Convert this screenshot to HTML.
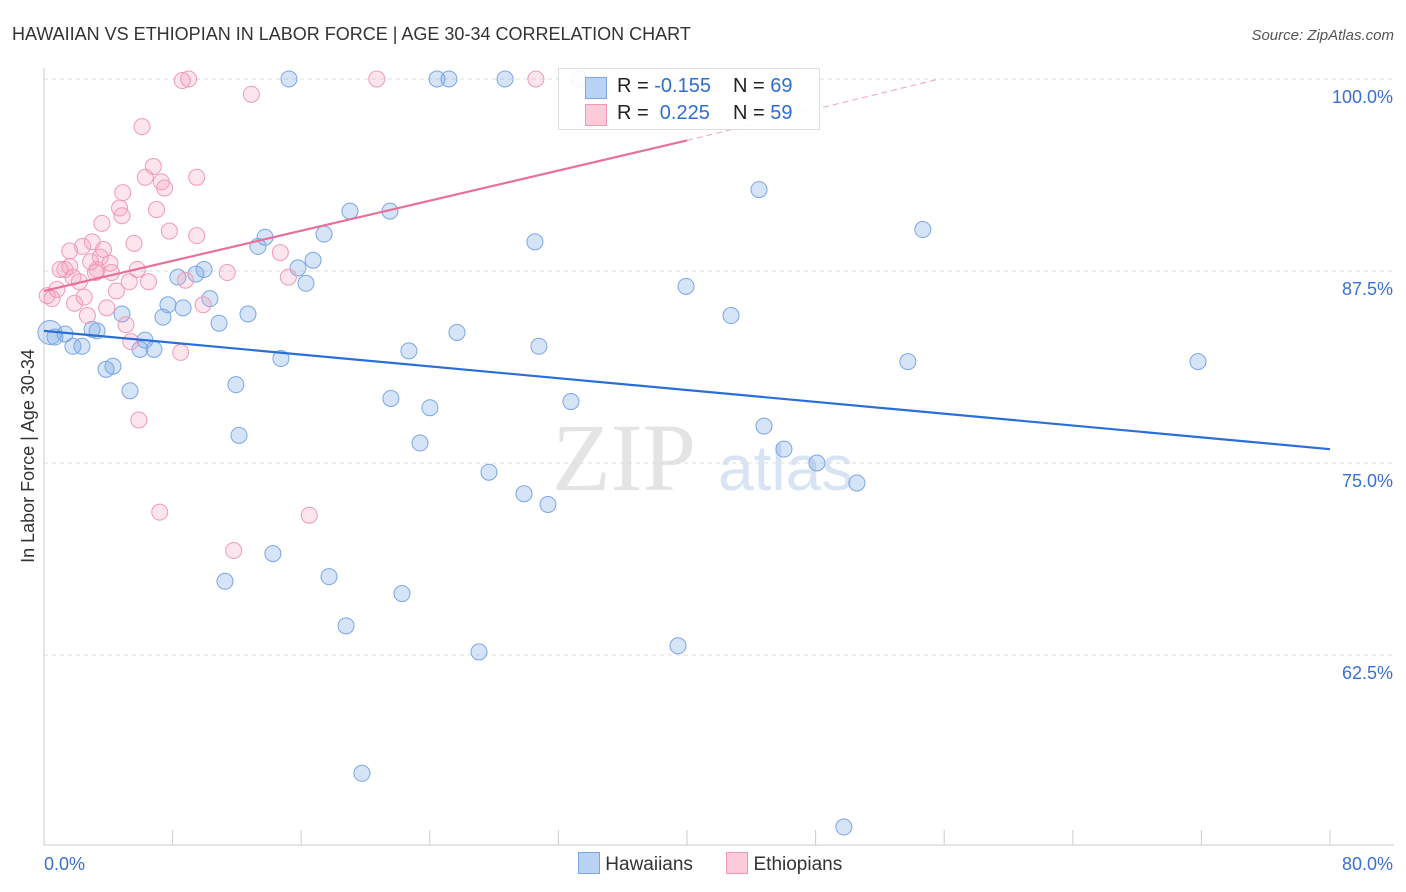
<!DOCTYPE html>
<html><head><meta charset="utf-8"><style>
body{margin:0;background:#fff;font-family:"Liberation Sans",sans-serif;}
svg{display:block}
</style></head><body>
<svg id="c" width="1406" height="892">
<text x="12" y="40" font-size="18" fill="#333">HAWAIIAN VS ETHIOPIAN IN LABOR FORCE | AGE 30-34 CORRELATION CHART</text>
<text x="1394" y="40" font-size="15" fill="#555" font-style="italic" text-anchor="end">Source: ZipAtlas.com</text>
<text x="552" y="490" font-size="96" fill="#e4e4e4" font-family="Liberation Serif,serif">ZIP</text>
<text x="718" y="490" font-size="64" fill="#d8e4f4">atlas</text>
<text transform="translate(34,456) rotate(-90)" font-size="18" fill="#333" text-anchor="middle">In Labor Force | Age 30-34</text>
<g id="grid"></g><g id="pts"></g><g id="lines"></g>
</svg>
<script>
const NS="http://www.w3.org/2000/svg";
const yTicks=[100,87.5,75,62.5];
const yTickLabels=["100.0%","87.5%","75.0%","62.5%"];
const xTickVals=[0,8,16,24,32,40,48,56,64,72,80];
const hawX=[0.37,0.68,1.31,1.80,2.36,2.99,3.30,3.86,4.29,4.85,5.35,5.97,6.28,6.84,7.4,7.71,8.33,8.65,9.45,9.95,10.32,10.89,11.94,12.13,12.69,11.26,13.31,13.75,14.24,14.74,15.8,16.3,16.74,17.42,17.73,18.79,19.03,19.78,21.52,21.58,22.27,22.7,23.39,24.01,24.45,25.19,25.69,27.06,27.68,28.68,29.86,30.54,30.79,31.35,32.78,33.28,15.24,39.44,39.94,42.74,44.48,44.79,46.03,48.08,49.76,50.57,53.74,54.67,71.79];
const hawY=[83.5,83.2,83.4,82.6,82.6,83.7,83.6,81.1,81.3,84.7,79.7,82.4,83.0,82.4,84.5,85.3,87.1,85.1,87.3,87.6,85.7,84.1,80.1,76.8,84.7,67.3,89.1,89.7,69.1,81.8,87.7,86.7,88.2,89.9,67.6,64.4,91.4,54.8,91.4,79.2,66.5,82.3,76.3,78.6,100,100,83.5,62.7,74.4,100,73.0,89.4,82.6,72.3,79.0,100,100,63.1,86.5,84.6,92.8,77.4,75.9,75.0,51.3,73.7,81.6,90.2,81.6];
const ethX=[0.2,0.5,0.8,1.0,1.3,1.6,1.6,1.9,1.8,2.2,2.4,2.5,2.7,2.9,3.0,3.2,3.3,3.5,3.6,3.7,3.9,4.1,4.2,4.5,4.7,4.85,4.9,5.1,5.3,5.4,5.6,5.8,5.9,6.1,6.3,6.5,6.8,7.0,7.2,7.3,7.5,7.8,8.5,8.8,9.0,9.5,9.5,9.9,11.4,11.8,12.9,14.7,15.2,16.5,20.7,30.6,8.6];
const ethY=[85.9,85.7,86.3,87.6,87.6,87.8,88.8,85.4,87.1,86.8,89.1,85.8,84.6,88.1,89.4,87.4,87.6,88.4,90.6,88.9,85.1,88.0,87.4,86.2,91.6,91.1,92.6,84.0,86.8,82.9,89.3,87.6,77.8,96.9,93.6,86.8,94.3,91.5,71.8,93.3,92.9,90.1,82.2,86.9,100,89.8,93.6,85.3,87.4,69.3,99.0,88.7,87.1,71.6,100,100,99.9];
const X=v=>44+v*16.075, Y=v=>79+(100-v)*15.36;
const g=document.getElementById('grid');
function el(p,t,a){const e=document.createElementNS(NS,t);for(const k in a)e.setAttribute(k,a[k]);p.appendChild(e);return e;}
yTicks.forEach((v,i)=>{
 const l=el(g,'line',{x1:44,x2:1394,y1:Y(v),y2:Y(v),stroke:'#ddd','stroke-dasharray':'4,4'});
 
 
 const t=el(g,'text',{x:1393,y:Y(v)+24,'font-size':18,fill:'#3b6fd4','text-anchor':'end'});t.textContent=yTickLabels[i];
 
 
});
const ax=el(g,'line',{x1:44,x2:44,y1:68,y2:845,stroke:'#ccc'});


const bx=el(g,'line',{x1:44,x2:1394,y1:845,y2:845,stroke:'#ccc'});


xTickVals.forEach(v=>{const t=el(g,'line',{x1:X(v),x2:X(v),y1:830,y2:845,stroke:'#ccc'});
 
 });
const xl=el(g,'text',{x:44,y:870,'font-size':18,fill:'#3b6fd4'});xl.textContent='0.0%';


const xr=el(g,'text',{x:1393,y:870,'font-size':18,fill:'#3b6fd4','text-anchor':'end'});xr.textContent='80.0%';


const P=document.getElementById('pts');
hawX.forEach((x,i)=>{const c=el(P,'circle',{cx:X(x),cy:Y(hawY[i]),r:i==0?12:8,fill:'rgba(120,165,230,0.3)',stroke:'#7aa6e6','stroke-width':1});
 
 });
ethX.forEach((x,i)=>{const c=el(P,'circle',{cx:X(x),cy:Y(ethY[i]),r:8,fill:'rgba(245,150,180,0.25)',stroke:'#f09ab5','stroke-width':1});
 
 });
const L=document.getElementById('lines');
const bl=el(L,'line',{x1:X(0),y1:Y(83.6),x2:X(80),y2:Y(75.9),stroke:'#2a6fd6','stroke-width':2.2});


const pl=el(L,'line',{x1:X(0),y1:Y(86.2),x2:X(40),y2:Y(96.0),stroke:'#e8709a','stroke-width':2.2});


const pd=el(L,'line',{x1:X(40),y1:Y(96.0),x2:X(55.7),y2:Y(100),stroke:'#f0a0bb','stroke-width':1,'stroke-dasharray':'6,4'});


</script>
<div style="position:absolute;left:558px;top:68px;width:260px;height:60px;border:1px solid #ddd;background:rgba(255,255,255,0.9);font-size:20px;color:#222">
 <div style="position:absolute;left:26px;top:6px;width:240px;height:24px"><span style="position:absolute;left:0;top:2px;width:20px;height:20px;background:#b9d2f5;border:1px solid #7aa6e6"></span><span style="position:absolute;left:32px">R = <span style="color:#2a6fd6">-0.155</span></span><span style="position:absolute;left:148px">N = <span style="color:#2a6fd6">69</span></span></div>
 <div style="position:absolute;left:26px;top:33px;width:240px;height:24px"><span style="position:absolute;left:0;top:2px;width:20px;height:20px;background:#fbcbda;border:1px solid #f09ab5"></span><span style="position:absolute;left:32px">R = &nbsp;<span style="color:#2a6fd6">0.225</span></span><span style="position:absolute;left:148px">N = <span style="color:#2a6fd6">59</span></span></div>
</div>
<div style="position:absolute;left:578px;top:852px;font-size:19px;color:#333;white-space:nowrap">
 <span><span style="display:inline-block;width:20px;height:20px;background:#b9d2f5;border:1px solid #7aa6e6;vertical-align:-4px"></span> Hawaiians</span>
 <span style="margin-left:28px"><span style="display:inline-block;width:20px;height:20px;background:#fbcbda;border:1px solid #f09ab5;vertical-align:-4px"></span> Ethiopians</span>
</div>
</body></html>
